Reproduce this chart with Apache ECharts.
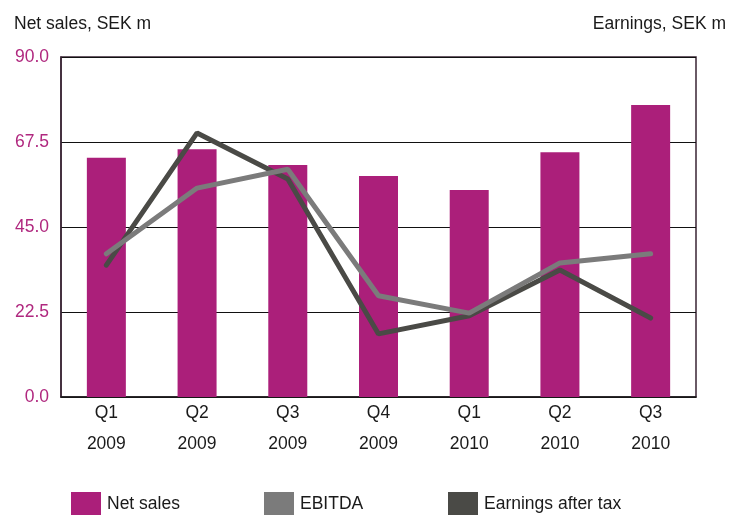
<!DOCTYPE html>
<html>
<head>
<meta charset="utf-8">
<script src="https://cdn.jsdelivr.net/npm/echarts@6/dist/echarts.min.js"></script>
<style>html,body{margin:0;padding:0;background:#fff}#c{width:731px;height:515px}</style>
</head>
<body>
<div id="c"></div>
<script>
const categories = ['Q1\n2009','Q2\n2009','Q3\n2009','Q4\n2009','Q1\n2010','Q2\n2010','Q3\n2010'];
const netSales = [63.3, 65.6, 61.4, 58.5, 54.8, 64.8, 77.3];
const ebitda = [37.9, 55.3, 60.3, 26.8, 22.2, 35.5, 37.9];
const earningsAfterTax = [34.9, 69.9, 57.7, 16.7, 21.5, 33.6, 20.9];
const yTicks = [0, 22.5, 45, 67.5, 90];

const FONT = 'Liberation Sans';
const FS = 17.5;
const legendStyle = (name, left) => ({
  bottom: -6, left: left, itemWidth: 30, itemHeight: 24, icon: 'rect',
  textStyle: {fontFamily: FONT, fontSize: FS, color: '#1a1a1a', padding: [0,0,0,1]},
  data: [name]
});
const chart = echarts.init(document.getElementById('c'), null, {renderer: 'canvas'});
chart.setOption({
  animation: false,
  textStyle: {fontFamily: FONT},
  title: [
    {text: 'Net sales, SEK m', left: 9, top: 10, textStyle: {fontFamily: FONT, fontSize: FS, fontWeight: 'normal', color: '#1a1a1a'}},
    {text: 'Earnings, SEK m', right: 0, top: 10, textStyle: {fontFamily: FONT, fontSize: FS, fontWeight: 'normal', color: '#1a1a1a'}}
  ],
  grid: {left: 61, right: 35, top: 57, bottom: 118, show: true, borderColor: '#3a2434', borderWidth: 1.5, backgroundColor: 'transparent'},
  legend: [
    legendStyle('Net sales', 66),
    legendStyle('EBITDA', 259),
    legendStyle('Earnings after tax', 443)
  ],
  xAxis: {
    type: 'category', data: categories,
    axisLine: {show: true, lineStyle: {color: '#1a1a1a', width: 1.5}},
    axisTick: {show: false},
    axisLabel: {fontFamily: FONT, fontSize: FS, color: '#1a1a1a', lineHeight: 31, margin: 1}
  },
  yAxis: [{
    type: 'value', min: 0, max: 90, interval: 22.5,
    axisLine: {show: true, lineStyle: {color: '#3a2434', width: 1.5}},
    axisTick: {show: false},
    axisLabel: {fontFamily: FONT, fontSize: FS, color: '#b0287f', margin: 12,
      formatter: v => yTicks.includes(v) ? v.toFixed(1) : ''},
    splitLine: {show: true, lineStyle: {color: '#111', width: 1.2}}
  }, {
    type: 'value', min: 0, max: 90, interval: 22.5,
    axisLine: {show: false}, axisTick: {show: false}, axisLabel: {show: false}, splitLine: {show: false}
  }],
  series: [
    {name: 'Net sales', type: 'bar', data: netSales, barWidth: 39, itemStyle: {color: '#ab1f7a'}, z: 1},
    {name: 'EBITDA', type: 'line', yAxisIndex: 1, data: ebitda, symbol: 'none',
      lineStyle: {color: '#7b7b7b', width: 5, cap: 'round'}, itemStyle: {color: '#7b7b7b'}, z: 3},
    {name: 'Earnings after tax', type: 'line', yAxisIndex: 1, data: earningsAfterTax, symbol: 'none',
      lineStyle: {color: '#4a4a46', width: 5, cap: 'round'}, itemStyle: {color: '#4a4a46'}, z: 2}
  ]
});
</script>
</body>
</html>
